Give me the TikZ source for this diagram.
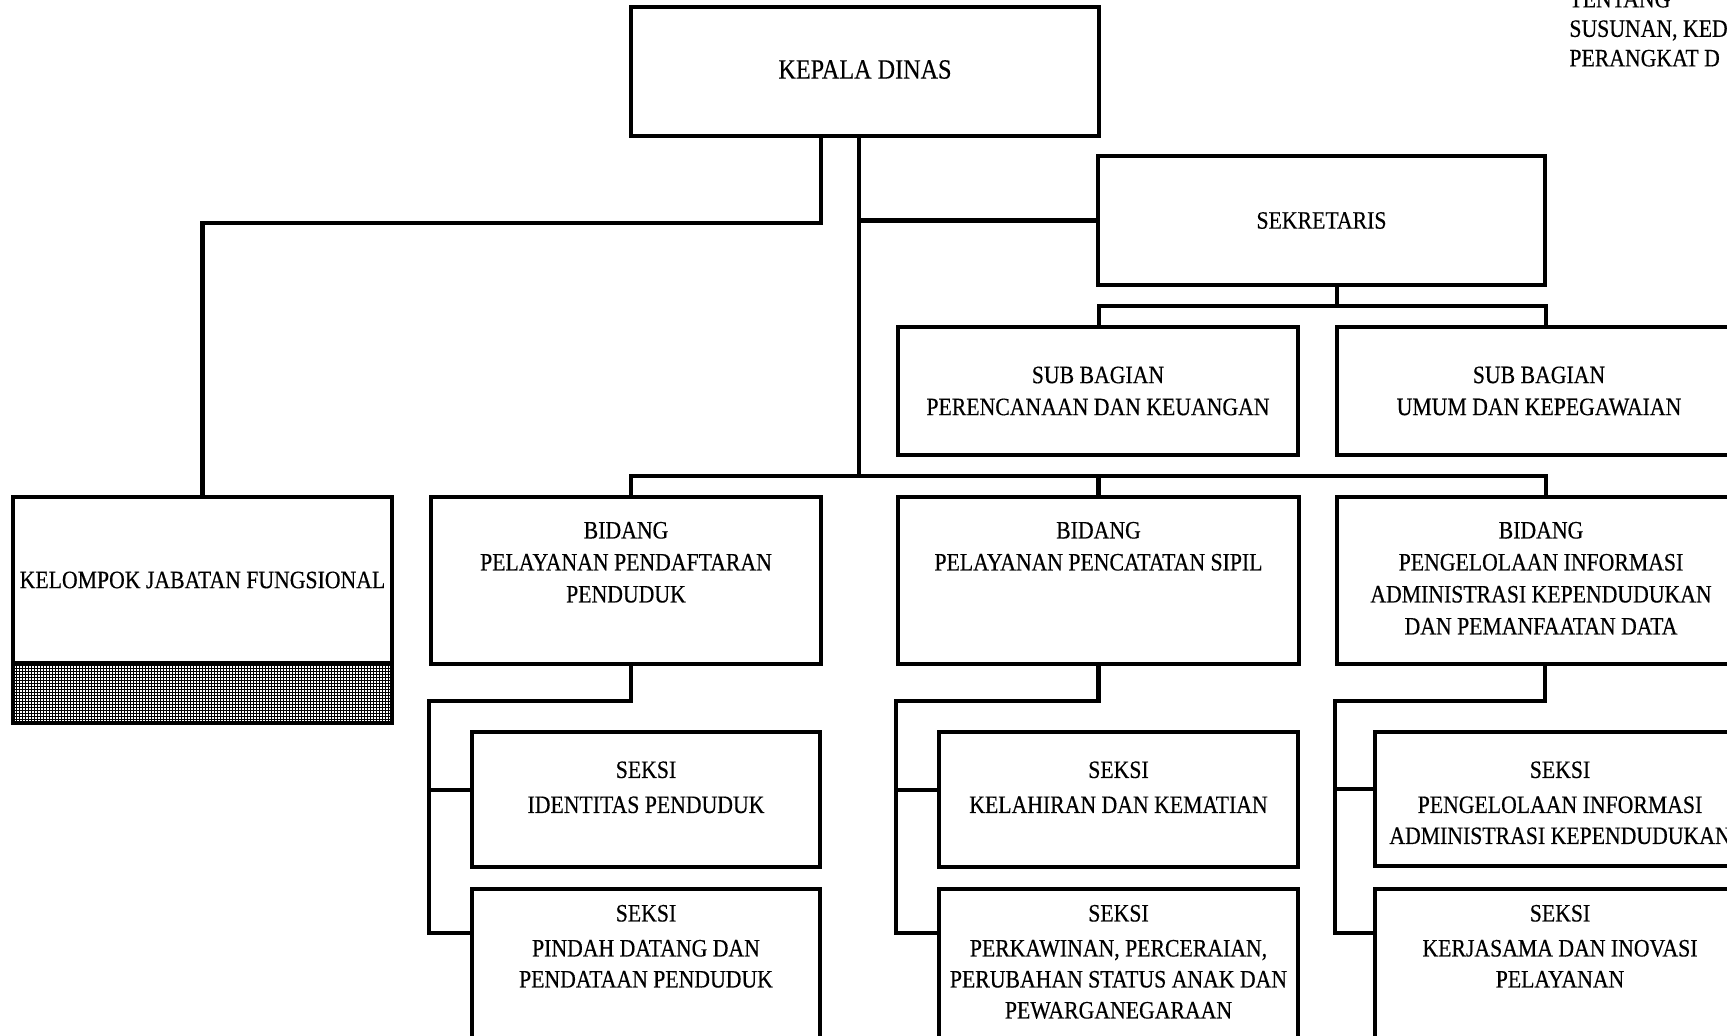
\documentclass[tikz,border=0pt]{standalone}
\usepackage{fontspec}
\setmainfont{Liberation Serif}[FakeStretch=0.87, FakeBold=0.4]
\usetikzlibrary{fit,patterns}

% fine cross-hatching for the shaded strip
\pgfdeclarepatternformonly{finegrid}{\pgfqpoint{-0.1pt}{-0.1pt}}{\pgfqpoint{1.6pt}{1.6pt}}{\pgfqpoint{1.5pt}{1.5pt}}{%
  \pgfsetlinewidth{0.5pt}%
  \pgfpathmoveto{\pgfqpoint{0pt}{0.75pt}}\pgfpathlineto{\pgfqpoint{1.5pt}{0.75pt}}%
  \pgfpathmoveto{\pgfqpoint{0.75pt}{0pt}}\pgfpathlineto{\pgfqpoint{0.75pt}{1.5pt}}%
  \pgfusepath{stroke}}

\tikzset{
  orgbox/.style={draw=black, line width=2pt, inner sep=0pt},
  conn/.style={draw=black, line width=2.3pt, line join=miter},
  boxtext/.style={inner sep=0pt, anchor=north, align=center,
    font=\fontsize{12.5pt}{15.5pt}\selectfont},
  bidtext/.style={boxtext, font=\fontsize{12.5pt}{16pt}\selectfont},
  midtext/.style={inner sep=0pt, anchor=center, align=center,
    font=\fontsize{12.5pt}{16pt}\selectfont},
}

\begin{document}
\begin{tikzpicture}[x=0.5pt,y=-0.5pt]
\useasboundingbox (0,0) rectangle (1727,1036);
\clip (0,0) rectangle (1727,1036);
\fill[white] (0,0) rectangle (1727,1036);

% heading note, top right
\node[inner sep=0pt, anchor=south west, align=left,
      font=\fontsize{12.5pt}{14.75pt}\selectfont] (note) at (1569,67)
  {TENTANG\\SUSUNAN, KED\\PERANGKAT D};

% top level
\node[orgbox, fit={(631,7) (1099,136)}] (kepala) {};
\node[midtext, font=\fontsize{13.9pt}{16pt}\selectfont] (kepalat) at ([yshift=1pt]kepala.center) {KEPALA DINAS};
\node[orgbox, fit={(1098,156) (1545,285)}] (sek) {};
\node[midtext] (sekt) at (sek.center) {SEKRETARIS};

% sub bagian
\node[orgbox, fit={(898,327) (1298,455)}] (sub1) {};
\node[orgbox, fit={(1337,327) (1745,455)}] (sub2) {};
\node[midtext] (sub1t) at (sub1.center) {SUB BAGIAN\\PERENCANAAN DAN KEUANGAN};
\node[midtext] (sub2t) at ([xshift=-1pt]sub2.center) {SUB BAGIAN\\UMUM DAN KEPEGAWAIAN};

% kelompok jabatan fungsional
\node[orgbox, fit={(13,497) (392,663)}] (kjf) {};
\node[orgbox, pattern=finegrid, fit={(13,663) (392,723)}] (kjfh) {};
\node[midtext] (kjft) at (kjf.center) {KELOMPOK JABATAN FUNGSIONAL};

% bidang
\node[orgbox, fit={(431,497) (821,664)}] (b1) {};
\node[orgbox, fit={(898,497) (1299,664)}] (b2) {};
\node[orgbox, fit={(1337,497) (1745,664)}] (b3) {};
\node[bidtext] (b1t) at ([yshift=-13.25pt]b1.north) {BIDANG\\PELAYANAN PENDAFTARAN\\PENDUDUK};
\node[bidtext] (b2t) at ([yshift=-13.25pt]b2.north) {BIDANG\\PELAYANAN PENCATATAN SIPIL};
\node[bidtext] (b3t) at ([yshift=-13.25pt]b3.north) {BIDANG\\PENGELOLAAN INFORMASI\\ADMINISTRASI KEPENDUDUKAN\\DAN PEMANFAATAN DATA};

% seksi
\node[orgbox, fit={(472,732) (820,867)}] (s11) {};
\node[orgbox, fit={(472,889) (820,1060)}] (s12) {};
\node[orgbox, fit={(939,732) (1298,867)}] (s21) {};
\node[orgbox, fit={(939,889) (1298,1060)}] (s22) {};
\node[orgbox, fit={(1375,732) (1745,866)}] (s31) {};
\node[orgbox, fit={(1375,889) (1745,1060)}] (s32) {};

\node[boxtext] (s11t) at ([yshift=-15.5pt]s11.north) {SEKSI\\[2pt]IDENTITAS PENDUDUK};
\node[boxtext] (s12t) at ([yshift=-8.75pt]s12.north) {SEKSI\\[2pt]PINDAH DATANG DAN\\PENDATAAN PENDUDUK};
\node[boxtext] (s21t) at ([yshift=-15.5pt]s21.north) {SEKSI\\[2pt]KELAHIRAN DAN KEMATIAN};
\node[boxtext] (s22t) at ([yshift=-8.75pt]s22.north) {SEKSI\\[2pt]PERKAWINAN, PERCERAIAN,\\PERUBAHAN STATUS ANAK DAN\\PEWARGANEGARAAN};
\node[boxtext] (s31t) at ([yshift=-15.5pt]s31.north) {SEKSI\\[2pt]PENGELOLAAN INFORMASI\\ADMINISTRASI KEPENDUDUKAN};
\node[boxtext] (s32t) at ([yshift=-8.75pt]s32.north) {SEKSI\\[2pt]KERJASAMA DAN INOVASI\\PELAYANAN};

% connectors from the head
\coordinate (kd) at ([xshift=-3pt]kepala.south);
\coordinate (busL) at (631,476);
\coordinate (busR) at (1546,476);
\draw[conn] ([xshift=-22pt]kepala.south) -- ++(0,85) -| (kjf.north);
\draw[conn] (kd) -- (kd |- busL);
\draw[conn] (kd |- sek.west) -- (sek.west);

% bus to the bidang
\draw[conn] (busL |- b1.north) -- (busL) -- (busR) -- (busR |- b3.north);
\draw[conn] (b2.north |- busL) -- (b2.north);

% sekretaris to sub bagian
\coordinate (sd) at ([xshift=7.75pt]sek.south);
\coordinate (sbL) at (1099,306);
\coordinate (sbR) at (1546,306);
\draw[conn] (sd) -- (sd |- sbL);
\draw[conn] (sbL |- sub1.north) -- (sbL) -- (sbR) -- (sbR |- sub2.north);

% bidang to seksi
\draw[conn] ([xshift=2.5pt]b1.south) -- ++(0,35) -| ([xshift=-20.5pt,yshift=-23pt]s12.north west) -- ([yshift=-23pt]s12.north west);
\draw[conn] ([yshift=4.75pt]s11.west) -- ++(-41,0);
\draw[conn] (b2.south) -- ++(0,35) -| ([xshift=-20.5pt,yshift=-23pt]s22.north west) -- ([yshift=-23pt]s22.north west);
\draw[conn] ([yshift=4.75pt]s21.west) -- ++(-41,0);
\draw[conn] ([xshift=2pt]b3.south) -- ++(0,35) -| ([xshift=-19pt,yshift=-23pt]s32.north west) -- ([yshift=-23pt]s32.north west);
\draw[conn] ([yshift=5pt]s31.west) -- ++(-38,0);
\end{tikzpicture}
\end{document}
